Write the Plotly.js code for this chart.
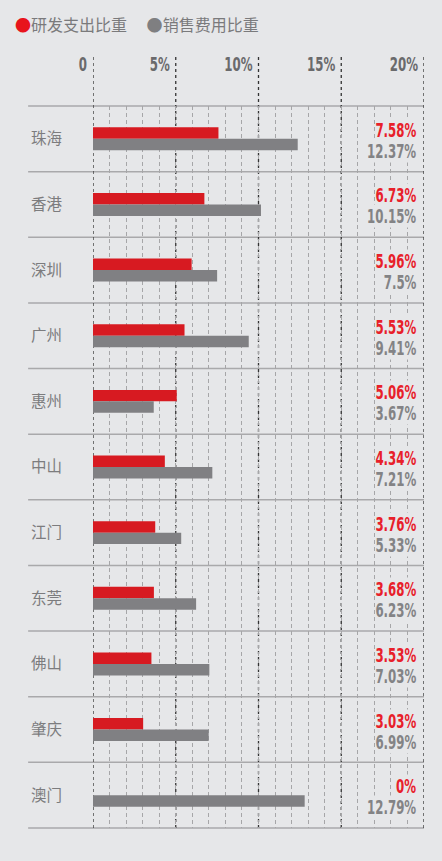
<!DOCTYPE html>
<html><head><meta charset="utf-8">
<script src="https://cdn.plot.ly/plotly-3.0.1.min.js"></script>
<style>html,body{margin:0;padding:0;background:#e6e7e9;}</style>
</head><body>
<div id="chart" style="width:442px;height:861px;"></div>
<script>
const cities = ["珠海","香港","深圳","广州","惠州","中山","江门","东莞","佛山","肇庆","澳门"];
const rdShare = [7.58, 6.73, 5.96, 5.53, 5.06, 4.34, 3.76, 3.68, 3.53, 3.03, 0];
const rdLabels = ["7.58%","6.73%","5.96%","5.53%","5.06%","4.34%","3.76%","3.68%","3.53%","3.03%","0%"];
const salesShare = [12.37, 10.15, 7.5, 9.41, 3.67, 7.21, 5.33, 6.23, 7.03, 6.99, 12.79];
const salesLabels = ["12.37%","10.15%","7.5%","9.41%","3.67%","7.21%","5.33%","6.23%","7.03%","6.99%","12.79%"];
const seriesNames = ["研发支出比重","销售费用比重"];
const tickVals = [0, 5, 10, 15, 20];
const tickText = ["0","5%","10%","15%","20%"];

const RED = "#d71a21", GRAY = "#808083", BG = "#e6e7e9";
const RED_TXT = "#e8202a", GRAY_TXT = "#838385";
const NUMFONT = "'DejaVu Sans Condensed','Liberation Sans Narrow',sans-serif";
const CJK = "'Noto Sans CJK SC','Noto Sans',sans-serif";
const SQUEEZE = 0.69;

const traces = [
  {type:"bar", orientation:"h", y:cities, x:rdShare, name:seriesNames[0],
   marker:{color:RED}, showlegend:false, hoverinfo:"none"},
  {type:"bar", orientation:"h", y:cities, x:salesShare, name:seriesNames[1],
   marker:{color:GRAY}, showlegend:false, hoverinfo:"none"}
];

const n = cities.length;
const shapes = [];
for (let i = 0; i <= n; i++) {
  shapes.push({type:"line", xref:"paper", yref:"paper", x0:-0.196, x1:1, y0:i/n, y1:i/n,
    line:{color:"#a9a9ab", width:1.5}, layer:"below"});
}
tickVals.forEach(v => {
  shapes.push({type:"line", xref:"x", yref:"paper", x0:v, x1:v, y0:0, y1:1.071,
    line:{color:"#333", width:1.3, dash:"3px,3px"}, layer:"below"});
});

const annotations = [];
cities.forEach((c, i) => {
  const yc = 1 - (i + 0.5) / n;
  annotations.push({xref:"paper", yref:"paper", x:0.979, y:yc, yshift:9, xanchor:"right", yanchor:"middle",
    align:"right", text:rdLabels[i], showarrow:false, bgcolor:BG, borderpad:0,
    font:{family:NUMFONT, size:19, color:RED_TXT, weight:"bold"}});
  annotations.push({xref:"paper", yref:"paper", x:0.979, y:yc, yshift:-12, xanchor:"right", yanchor:"middle",
    align:"right", text:salesLabels[i], showarrow:false, bgcolor:BG, borderpad:0,
    font:{family:NUMFONT, size:19, color:GRAY_TXT, weight:"bold"}});
});
annotations.push({xref:"paper", yref:"paper", x:-0.2417, y:1.1136, xanchor:"left", yanchor:"middle",
  showarrow:false, align:"left",
  text:'<span style="color:#e8141c">●</span>' + seriesNames[0] +
       '　 <span style="color:#7f7f81">●</span>' + seriesNames[1],
  font:{family:CJK, size:16, color:"#7a7a7c"}});

const layout = {
  width:442, height:861,
  margin:{l:93, r:18, t:106, b:33, pad:0},
  paper_bgcolor:BG, plot_bgcolor:BG,
  barmode:"group", bargap:0.65, bargroupgap:0,
  showlegend:false,
  xaxis:{range:[0,20], side:"top", tickvals:tickVals, ticktext:tickText,
    ticklabelposition:"outside left", ticks:"", ticklabelstandoff:30, ticklabelshift:-6,
    tickfont:{family:NUMFONT, size:19, color:"#6a6a6c", weight:"bold"},
    showgrid:false, zeroline:false, showline:false, fixedrange:true,
    minor:{dtick:1, tick0:0, showgrid:true, gridcolor:"#a6a6a8", griddash:"4px,3px", gridwidth:1}},
  yaxis:{type:"category", categoryorder:"array", categoryarray:cities, range:[n-0.5, -0.5],
    showgrid:false, zeroline:false, showline:false,
    ticks:"outside", ticklen:27, tickcolor:"rgba(0,0,0,0)",
    tickfont:{family:CJK, size:15.5, color:"#7c7c7e"}, fixedrange:true},
  shapes:shapes, annotations:annotations
};

Plotly.newPlot("chart", traces, layout, {displayModeBar:false, staticPlot:true}).then(gd => {
  // emulate a condensed numeric typeface by narrowing the glyphs
  gd.querySelectorAll("text").forEach(t => {
    const ff = t.style.fontFamily || "";
    if (ff.indexOf("DejaVu Sans Condensed") < 0) return;
    const w = t.getComputedTextLength();
    if (!w) return;
    t.setAttribute("textLength", (w * SQUEEZE).toFixed(2));
    t.setAttribute("lengthAdjust", "spacingAndGlyphs");
    const g = t.closest(".annotation-text-g");
    if (g) {
      const r = g.querySelector("rect.bg");
      if (r) {
        const rw = parseFloat(r.getAttribute("width"));
        const rx = parseFloat(r.getAttribute("x") || 0);
        const nw = rw * SQUEEZE;
        r.setAttribute("x", rx + (rw - nw));
        r.setAttribute("width", nw);
      }
    }
  });
});
</script>
</body></html>
